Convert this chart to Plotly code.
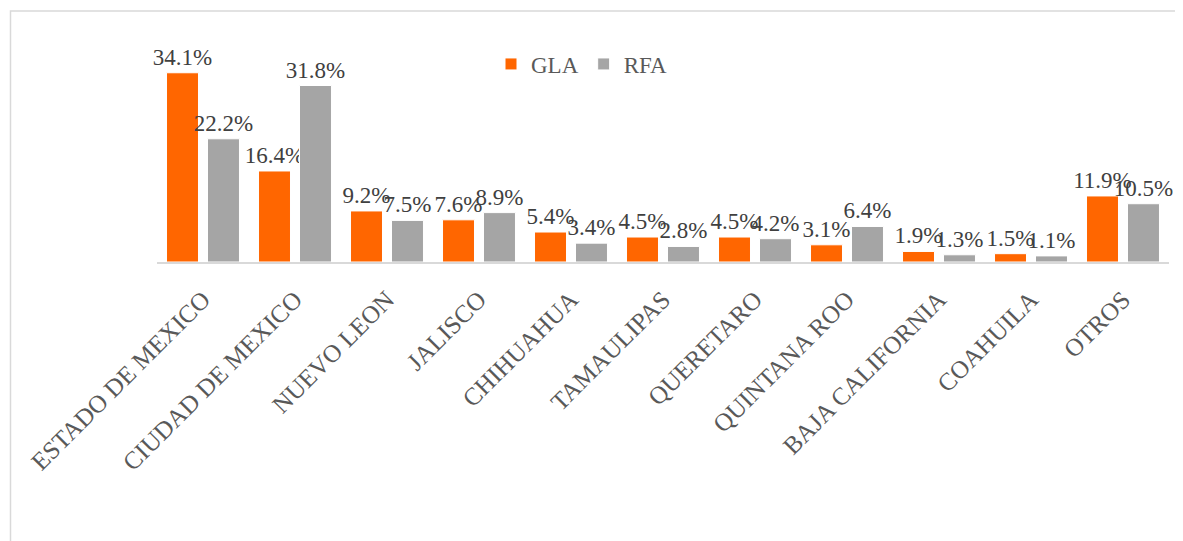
import plotly.graph_objects as go

categories = ["ESTADO DE MEXICO", "CIUDAD DE MEXICO", "NUEVO LEON", "JALISCO", "CHIHUAHUA",
              "TAMAULIPAS", "QUERETARO", "QUINTANA ROO", "BAJA CALIFORNIA", "COAHUILA", "OTROS"]
gla = [34.1, 16.4, 9.2, 7.6, 5.4, 4.5, 4.5, 3.1, 1.9, 1.5, 11.9]
rfa = [22.2, 31.8, 7.5, 8.9, 3.4, 2.8, 4.2, 6.4, 1.3, 1.1, 10.5]

FONT = "Liberation Serif"
OFF = 8  # page body margin
W, H = 1183 - OFF, 541 - OFF
L, R, T, B = 157 - OFF, 14, 40 - OFF, 279
pw, ph = W - L - R, H - T - B

def px2x(px):
    return (px - OFF - L) / pw

def py2y(py):
    return (H - B - (py - OFF)) / ph

fig = go.Figure()
for name, vals, col in [("GLA", gla, "#FF6600"), ("RFA", rfa, "#A5A5A5")]:
    fig.add_trace(go.Bar(
        name=name, x=categories, y=vals,
        marker=dict(color=col, line=dict(color="white", width=1)),
        text=[f"{v:.1f}%" for v in vals], textposition="outside", constraintext="none",
        textfont=dict(family=FONT, size=23, color="#404040"), cliponaxis=False))

fig.update_layout(
    width=W, height=H,
    margin=dict(l=L, r=R, t=T, b=B, autoexpand=False),
    paper_bgcolor="white", plot_bgcolor="white",
    barmode="group", bargap=0.109, bargroupgap=0.22,
    font=dict(family=FONT, color="#595959"),
    showlegend=True,
    legend=dict(orientation="h", x=px2x(582), xanchor="center", y=py2y(64), yanchor="middle",
                font=dict(family=FONT, size=23, color="#595959"), bgcolor="rgba(0,0,0,0)",
                itemwidth=30, tracegroupgap=0),
    shapes=[dict(type="rect", xref="paper", yref="paper",
                 x0=px2x(10.5), x1=px2x(1200), y0=py2y(11), y1=py2y(600),
                 line=dict(color="#D9D9D9", width=1.5), fillcolor="rgba(0,0,0,0)", layer="below")],
)
fig.update_xaxes(showline=True, linecolor="#D9D9D9", linewidth=2, showgrid=False, ticks="",
                 tickangle=-45, tickfont=dict(family=FONT, size=25, color="#595959"),
                 ticklabelstandoff=11)
fig.update_yaxes(range=[0, 40], visible=False, showgrid=False, zeroline=False)

fig.write_html("out.html")
